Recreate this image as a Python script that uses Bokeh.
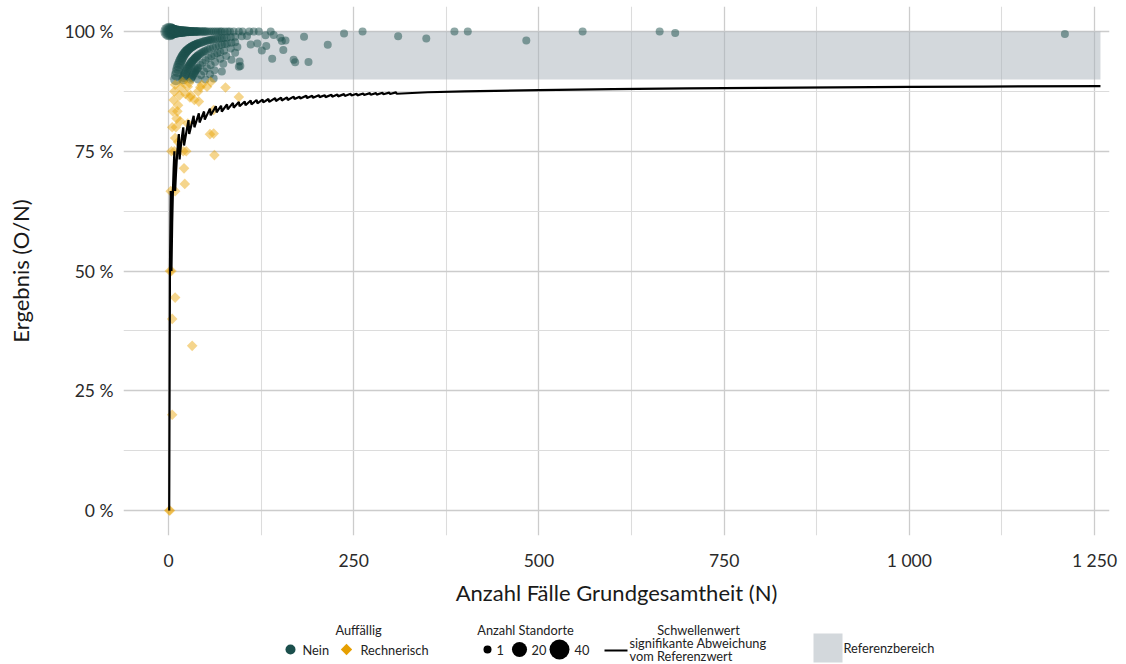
import math
from bokeh.plotting import figure
from bokeh.models import Range1d, FixedTicker, ColumnDataSource
from bokeh.layouts import column
from bokeh.embed import file_html
from bokeh.resources import INLINE
from bokeh.core.properties import value

# ---------------- data ----------------
ref_lower = 90
ref_upper = 100

# Auffällig = Nein : N (cases), O (events), number of sites at that point
nein_n = [
    1, 2, 3, 4, 5, 6, 7, 8, 9, 10, 11, 12, 13, 14, 15, 16, 17, 18, 19, 20,
    21, 22, 23, 24, 25, 26, 27, 28, 29, 30, 31, 32, 33, 34, 35, 36, 37, 38, 39, 40,
    42, 44, 46, 48, 50, 52, 55, 58, 61, 64, 67, 70, 72, 76, 80, 83, 88, 95, 100, 109,
    115, 122, 138, 262, 386, 404, 559, 663,
    10, 11, 12, 13, 14, 15, 16, 17, 18, 19, 20, 21, 22, 23, 24, 25, 26, 27, 28, 29,
    30, 31, 32, 33, 34, 35, 36, 37, 38, 39, 40,
    42, 44, 46, 48, 50, 52, 54, 56, 58, 60, 63, 66, 69, 72, 75, 79, 84, 90, 99, 106,
    131, 142, 237,
    20, 21, 22, 23, 24, 25, 26, 27, 28, 29, 30, 31, 32, 33, 34, 35, 36, 37, 38, 39, 40,
    42, 44, 46, 48, 50, 53, 56, 60, 64, 68, 72, 76, 79, 85, 90, 151, 183, 684,
    30, 31, 32, 33, 34, 35, 36, 37, 38, 39, 40, 43, 46, 50, 54, 58, 62, 66, 70, 75,
    84, 93, 111, 120, 153, 158,
    40, 44, 48, 52, 57, 63, 70, 78, 90, 132, 50, 56, 62, 74, 85, 126, 61, 72, 96, 215,
    155, 1210, 97, 95, 140, 169, 171, 189, 310, 348, 483,
]
nein_o = [
    1, 2, 3, 4, 5, 6, 7, 8, 9, 10, 11, 12, 13, 14, 15, 16, 17, 18, 19, 20,
    21, 22, 23, 24, 25, 26, 27, 28, 29, 30, 31, 32, 33, 34, 35, 36, 37, 38, 39, 40,
    42, 44, 46, 48, 50, 52, 55, 58, 61, 64, 67, 70, 72, 76, 80, 83, 88, 95, 100, 109,
    115, 122, 138, 262, 386, 404, 559, 663,
    9, 10, 11, 12, 13, 14, 15, 16, 17, 18, 19, 20, 21, 22, 23, 24, 25, 26, 27, 28,
    29, 30, 31, 32, 33, 34, 35, 36, 37, 38, 39,
    41, 43, 45, 47, 49, 51, 53, 55, 57, 59, 62, 65, 68, 71, 74, 78, 83, 89, 98, 105,
    130, 141, 236,
    18, 19, 20, 21, 22, 23, 24, 25, 26, 27, 28, 29, 30, 31, 32, 33, 34, 35, 36, 37, 38,
    40, 42, 44, 46, 48, 51, 54, 58, 62, 66, 70, 74, 77, 83, 88, 149, 181, 682,
    27, 28, 29, 30, 31, 32, 33, 34, 35, 36, 37, 40, 43, 47, 51, 55, 59, 63, 67, 72,
    81, 90, 108, 117, 150, 155,
    36, 40, 44, 48, 53, 59, 66, 74, 86, 128, 45, 51, 57, 69, 80, 121, 55, 66, 90, 209,
    149, 1204, 90, 88, 132, 159, 160, 177, 307, 343, 474,
]
nein_standorte = [
    30, 26, 22, 19, 17, 15, 14, 13, 12, 11, 10, 10, 9, 9, 8, 8, 7, 7, 6, 6,
    5, 5, 5, 4, 4, 4, 4, 3, 3, 3, 3, 3, 2, 2, 2, 2, 2, 2, 2, 2,
    2, 2, 2, 2, 2, 1, 1, 1, 1, 1, 1, 1, 1, 1, 1, 1, 1, 1, 1, 1,
    1, 1, 1, 1, 1, 1, 1, 1,
    9, 9, 8, 8, 8, 7, 7, 7, 6, 6, 6, 5, 5, 5, 5, 4, 4, 4, 4, 3,
    3, 3, 3, 3, 3, 2, 2, 2, 2, 2, 2,
    2, 2, 2, 2, 1, 1, 1, 1, 1, 1, 1, 1, 1, 1, 1, 1, 1, 1, 1, 1,
    1, 1, 1,
    5, 5, 5, 4, 4, 4, 4, 3, 3, 3, 3, 3, 3, 2, 2, 2, 2, 2, 2, 2, 2,
    2, 1, 1, 1, 1, 1, 1, 1, 1, 1, 1, 1, 1, 1, 1, 1, 1, 1,
    2, 2, 2, 2, 2, 2, 1, 1, 1, 1, 1, 1, 1, 1, 1, 1, 1, 1, 1, 1,
    1, 1, 1, 1, 1, 1,
    1, 1, 1, 1, 1, 1, 1, 1, 1, 1, 1, 1, 1, 1, 1, 1, 1, 1, 1, 1,
    1, 1, 1, 1, 1, 1, 1, 1, 1, 1, 1,
]

# Auffällig = Rechnerisch
rech_n = [1, 2, 5, 32, 5, 9, 2, 4, 3, 9, 22, 21, 4, 8, 20, 24, 13, 9, 10, 5,
          26, 16, 56, 61, 62, 6, 12, 13, 41, 35, 30, 15, 8, 95, 77, 52, 45, 26, 17, 9,
          61, 19, 28, 40, 7, 11, 43, 57, 23, 29]
rech_o = [0, 0, 1, 11, 2, 4, 1, 2, 2, 6, 15, 15, 3, 6, 15, 18, 10, 7, 8, 4,
          21, 13, 44, 48, 46, 5, 10, 11, 35, 30, 26, 13, 7, 82, 68, 46, 40, 23, 15, 8,
          51, 17, 25, 35, 6, 9, 38, 51, 20, 25]

# Schwellenwert signifikante Abweichung
thresh_n = [1, 2, 3, 4, 5, 6, 7, 8, 9, 10, 11, 12, 13, 14, 15, 16, 17, 18, 19, 20, 21,
            27, 28, 34, 35, 41, 42, 48, 49, 56, 57, 64, 65, 71, 72, 79, 80, 87, 88,
            95, 96, 103, 104, 111, 112, 119, 120, 127, 128, 135, 136, 144, 145, 152, 153,
            160, 161, 169, 170, 177, 178, 186, 187, 194, 195, 203, 204, 211, 212, 220, 221,
            228, 229, 237, 238, 246, 247, 254, 255, 263, 264, 272, 273, 280, 281, 289, 290,
            298, 299, 307, 308,
            350, 400, 500, 600, 700, 800, 900, 1000, 1100, 1258]
thresh_pct = [0, 50, 66.7, 50, 60, 66.7, 71.4, 75, 66.7, 70, 72.7, 75, 76.9, 78.6, 73.3, 75,
              76.5, 77.8, 78.9, 80, 76.2,
              81.5, 78.6, 82.4, 80.0, 82.9, 81.0, 83.3, 81.6, 83.9, 82.5, 84.4, 83.1,
              84.5, 83.3, 84.8, 83.75, 85.1, 84.1, 85.3, 84.4, 85.4, 84.6, 85.6, 84.8,
              85.7, 85.0, 85.8, 85.2, 85.9, 85.3, 86.1, 85.5, 86.2, 85.6, 86.25, 85.7,
              86.4, 85.9, 86.4, 86.0, 86.6, 86.1, 86.6, 86.15, 86.7, 86.3, 86.7, 86.3,
              86.8, 86.4,
              86.84, 86.46, 86.92, 86.55, 86.99, 86.64, 87.01, 86.67, 87.07, 86.74,
              87.13, 86.81, 87.14, 86.83, 87.20, 86.90, 87.25, 86.96, 87.30, 87.01,
              87.32, 87.50, 87.77, 87.96, 88.11, 88.24, 88.34, 88.43, 88.50, 88.60]

x_ticks = [0, 250, 500, 750, 1000, 1250]
x_tick_labels = ["0", "250", "500", "750", "1 000", "1 250"]
y_ticks = [0, 25, 50, 75, 100]
y_tick_labels = ["0 %", "25 %", "50 %", "75 %", "100 %"]

size_breaks = [1, 20, 40]

# ---------------- styling ----------------
FONT = "Lato"
TEAL = "#1b4f4c"
ORANGE = "#E9A100"
TXT = "#222222"
W = 1118
BL, BR = 123, 9          # frame from x=123 to x=1109
LH = 48                  # legend strip height


def size_px(c):
    return math.sqrt(8.0 ** 2 + (c - 1) / 39.0 * (20.0 ** 2 - 8.0 ** 2))


nein_src = ColumnDataSource(dict(
    n=nein_n,
    pct=[o / n * 100 for n, o in zip(nein_n, nein_o)],
    size=[size_px(c) for c in nein_standorte],
))
rech_src = ColumnDataSource(dict(
    n=rech_n,
    pct=[o / n * 100 for n, o in zip(rech_n, rech_o)],
))

p = figure(width=W, height=616,
           x_range=Range1d(-60.7, 1270.2), y_range=Range1d(-5.22, 105.22),
           output_backend="svg", toolbar_location=None,
           min_border_left=BL, min_border_right=BR, min_border_top=6, min_border_bottom=81)
p.outline_line_color = None
p.background_fill_color = "white"
p.border_fill_color = "white"

# grids
p.xaxis.ticker = FixedTicker(ticks=x_ticks, minor_ticks=[125, 375, 625, 875, 1125])
p.yaxis.ticker = FixedTicker(ticks=y_ticks, minor_ticks=[12.5, 37.5, 62.5, 87.5])
for g in (p.xgrid, p.ygrid):
    g.grid_line_color = "#cccccc"
    g.grid_line_width = 1.3
    g.minor_grid_line_color = "#dcdcdc"
    g.minor_grid_line_width = 1.1

# reference band
p.quad(left=[0], right=[max(thresh_n)], bottom=[ref_lower], top=[ref_upper],
       fill_color="#a7b1b9", fill_alpha=0.5, line_color=None)

# points
p.scatter("n", "pct", source=nein_src, size="size", marker="circle",
          fill_color=TEAL, fill_alpha=0.5, line_color=None)
p.scatter("n", "pct", source=rech_src, size=7.5, marker="square", angle=math.pi / 4,
          fill_color=ORANGE, fill_alpha=0.45, line_color=None)

# threshold line
p.line(thresh_n, thresh_pct, line_color="black", line_width=2.2)

# axes
for ax in (p.xaxis, p.yaxis):
    ax.axis_line_color = None
    ax.major_tick_line_color = None
    ax.minor_tick_line_color = None
    ax.major_tick_out = 0
    ax.major_tick_in = 0
    ax.minor_tick_out = 0
    ax.major_label_text_font = FONT
    ax.major_label_text_font_size = "17.5px"
    ax.major_label_text_color = "#2a2a2a"
    ax.axis_label_text_font = FONT
    ax.axis_label_text_font_size = "22px"
    ax.axis_label_text_font_style = "normal"
    ax.axis_label_text_color = "#1a1a1a"

p.xaxis.axis_label = "Anzahl Fälle Grundgesamtheit (N)"
p.yaxis.axis_label = "Ergebnis (O/N)"
p.xaxis.major_label_overrides = dict(zip(x_ticks, x_tick_labels))
p.yaxis.major_label_overrides = dict(zip(y_ticks, y_tick_labels))
p.xaxis.major_label_standoff = 14
p.xaxis.axis_label_standoff = 5
p.yaxis.major_label_standoff = 10
p.yaxis.axis_label_standoff = 28

# ---------------- legend (separate strip, x in page pixels) ----------------
lg = figure(width=W, height=LH, x_range=Range1d(BL, W - BR), y_range=Range1d(0, LH),
            output_backend="svg", toolbar_location=None,
            min_border_left=BL, min_border_right=BR, min_border_top=0, min_border_bottom=0,
            x_axis_location=None, y_axis_location=None)
lg.grid.visible = False
lg.outline_line_color = None
lg.background_fill_color = "white"
lg.border_fill_color = "white"

FS = value("12.8px")
FF = value(FONT)

# titles (page y 629)
lg.text(x=[358, 525, 698], y=[35, 35, 35], text=["Auffällig", "Anzahl Standorte", "Schwellenwert"],
        text_font=FF, text_font_size=FS, text_color=TXT, text_align="center", text_baseline="middle")
# Auffällig keys (page y 649)
lg.scatter(x=[290], y=[15], size=10, marker="circle", fill_color=TEAL, line_color=None)
lg.scatter(x=[346], y=[15], size=8, marker="square", angle=math.pi / 4, fill_color="#E69F00", line_color=None)
lg.text(x=[302, 360], y=[15, 15], text=["Nein", "Rechnerisch"],
        text_font=FF, text_font_size=FS, text_color=TXT, text_align="left", text_baseline="middle")
# size keys
lg.scatter(x=[487, 519, 559], y=[15, 15, 15], size=[size_px(c) for c in size_breaks],
           marker="circle", fill_color="black", line_color=None)
lg.text(x=[496, 531, 574], y=[15, 15, 15], text=[str(c) for c in size_breaks],
        text_font=FF, text_font_size=FS, text_color=TXT, text_align="left", text_baseline="middle")
# threshold key
lg.line(x=[604, 627], y=[14, 14], line_color="black", line_width=2)
lg.text(x=[629, 629], y=[21.5, 8.5], text=["signifikante Abweichung", "vom Referenzwert"],
        text_font=FF, text_font_size=FS, text_color=TXT, text_align="left", text_baseline="middle")
# reference band key
lg.quad(left=[813], right=[842], bottom=[2], top=[31], fill_color="#d3d8dc", line_color=None)
lg.text(x=[843], y=[17], text=["Referenzbereich"],
        text_font=FF, text_font_size=FS, text_color=TXT, text_align="left", text_baseline="middle")

layout = column(p, lg, spacing=0)
open("out.html", "w").write(file_html(layout, INLINE))
